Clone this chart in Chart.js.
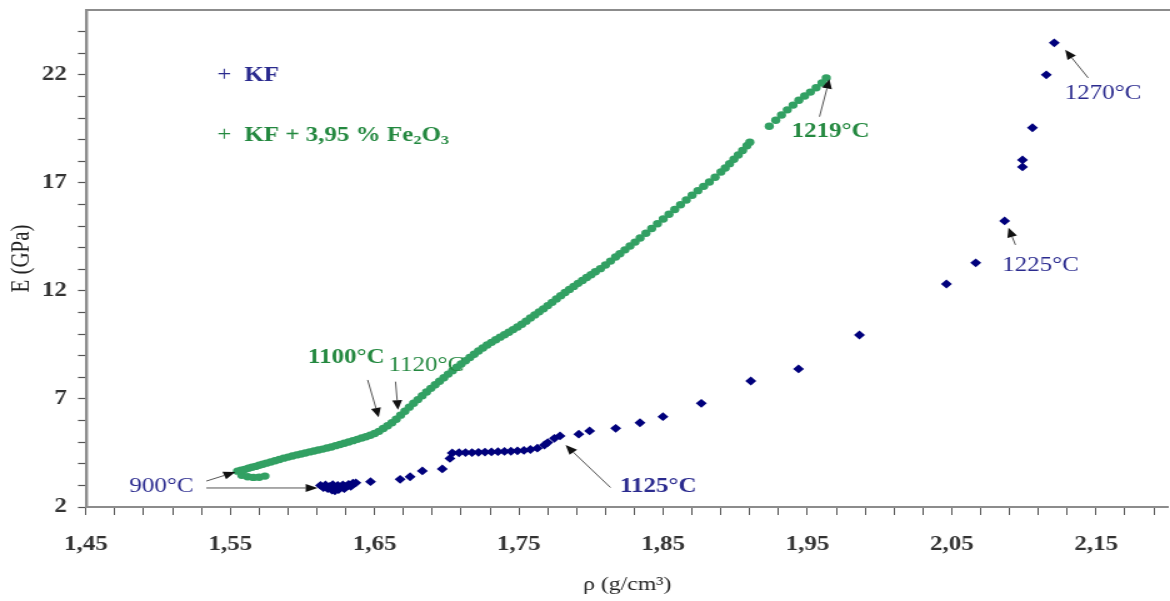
<!DOCTYPE html>
<html>
<head>
<meta charset="utf-8">
<script src="https://cdn.jsdelivr.net/npm/chart.js@4.4.1/dist/chart.umd.min.js"></script>
<style>
  html, body { margin: 0; padding: 0; background: #fff; overflow: hidden; width: 1170px; height: 601px; }
  #wrap { width: 939px; height: 601px; transform: scaleX(1.25); transform-origin: 0 0; }
</style>
</head>
<body>
<div id="wrap"><canvas id="c" width="939" height="601"></canvas></div>
<script>
// Density (g/cm3) and Young's modulus E (GPa) measured during sintering
const kfRho = [
  1.6125, 1.6145, 1.6160, 1.6175, 1.6190, 1.6205, 1.6210, 1.6225, 1.6230, 1.6245,
  1.6250, 1.6265, 1.6280, 1.6290, 1.6305, 1.6320, 1.6335, 1.6350, 1.6370,
  1.6472, 1.6677, 1.6746, 1.6831, 1.6969, 1.7022, 1.7038, 1.7085, 1.7130, 1.7175,
  1.7220, 1.7265, 1.7310, 1.7355, 1.7400, 1.7445, 1.7490, 1.7535, 1.7580, 1.7628,
  1.7677, 1.7700, 1.7746, 1.7785, 1.7915, 1.7990, 1.8171, 1.8339, 1.8498, 1.8764,
  1.9107, 1.9438, 1.9860, 2.0463, 2.0666, 2.0866, 2.0990, 2.0990, 2.1059, 2.1155, 2.1210
];
const kfE = [
  3.00, 2.90, 3.02, 2.85, 2.95, 2.78, 3.03, 2.75, 2.90, 3.00,
  2.80, 2.92, 3.02, 2.85, 2.95, 3.05, 2.95, 3.10, 3.12,
  3.17, 3.28, 3.40, 3.67, 3.76, 4.25, 4.50, 4.51, 4.52, 4.52,
  4.53, 4.54, 4.55, 4.56, 4.57, 4.58, 4.60, 4.62, 4.66, 4.72,
  4.87, 4.98, 5.18, 5.29, 5.37, 5.52, 5.64, 5.90, 6.18, 6.80,
  7.83, 8.39, 9.96, 12.32, 13.30, 15.24, 17.74, 18.06, 19.55, 22.00, 23.48
];

const feRho = [
  1.5580, 1.5620, 1.5660, 1.5700, 1.5740,
  1.5550, 1.5575, 1.5600, 1.5625, 1.5650, 1.5675, 1.5700, 1.5725, 1.5750, 1.5780,
  1.5810, 1.5840, 1.5870, 1.5900, 1.5930, 1.5960, 1.5990, 1.6020, 1.6050, 1.6080,
  1.6110, 1.6140, 1.6170, 1.6200, 1.6230, 1.6260, 1.6290, 1.6320, 1.6350, 1.6380,
  1.6410, 1.6440, 1.6470, 1.6500, 1.6530, 1.6560, 1.6590, 1.6620, 1.6650, 1.6680,
  1.6710, 1.6740, 1.6770, 1.6800, 1.6830, 1.6860, 1.6890, 1.6920, 1.6950, 1.6980,
  1.7010, 1.7040, 1.7070, 1.7100, 1.7130, 1.7160, 1.7190, 1.7220, 1.7250, 1.7280,
  1.7310, 1.7340, 1.7370, 1.7400, 1.7430, 1.7460, 1.7490, 1.7520, 1.7550, 1.7580,
  1.7610, 1.7640, 1.7670, 1.7700, 1.7730, 1.7760, 1.7790, 1.7820, 1.7850, 1.7880,
  1.7910, 1.7940, 1.7970, 1.8000, 1.8030, 1.8065, 1.8100, 1.8135, 1.8170, 1.8200,
  1.8235, 1.8270, 1.8305, 1.8340, 1.8380, 1.8420, 1.8460, 1.8500, 1.8540, 1.8580,
  1.8620, 1.8660, 1.8700, 1.8740, 1.8780, 1.8820, 1.8860, 1.8900, 1.8930, 1.8960,
  1.8990, 1.9020, 1.9050, 1.9080, 1.9100, 1.9235, 1.9280, 1.9320, 1.9360, 1.9400,
  1.9440, 1.9480, 1.9520, 1.9560, 1.9600, 1.9630
];
const feE = [
  3.47, 3.40, 3.37, 3.38, 3.43,
  3.66, 3.70, 3.74, 3.79, 3.84, 3.88, 3.93, 3.98, 4.03, 4.08,
  4.14, 4.20, 4.26, 4.31, 4.36, 4.41, 4.45, 4.50, 4.55, 4.59,
  4.64, 4.68, 4.73, 4.78, 4.84, 4.89, 4.95, 5.01, 5.07, 5.13,
  5.19, 5.25, 5.32, 5.40, 5.50, 5.63, 5.76, 5.90, 6.06, 6.25,
  6.43, 6.62, 6.80, 6.97, 7.15, 7.32, 7.49, 7.66, 7.82, 7.98,
  8.15, 8.31, 8.47, 8.62, 8.77, 8.92, 9.07, 9.22, 9.36, 9.50,
  9.62, 9.74, 9.86, 9.97, 10.09, 10.21, 10.33, 10.46, 10.60, 10.75,
  10.89, 11.03, 11.17, 11.32, 11.47, 11.63, 11.78, 11.93, 12.07, 12.21,
  12.35, 12.48, 12.62, 12.75, 12.89, 13.03, 13.20, 13.38, 13.57, 13.72,
  13.90, 14.08, 14.26, 14.45, 14.67, 14.89, 15.11, 15.33, 15.55, 15.77,
  15.99, 16.21, 16.43, 16.64, 16.84, 17.04, 17.26, 17.50, 17.69, 17.89,
  18.09, 18.29, 18.50, 18.72, 18.88, 19.62, 19.90, 20.14, 20.38, 20.60,
  20.82, 21.02, 21.20, 21.40, 21.62, 21.85
];

// Axis tick labels (decimal comma)
const xTickValues = [1.45, 1.55, 1.65, 1.75, 1.85, 1.95, 2.05, 2.15];
const xTickLabels = ['1,45', '1,55', '1,65', '1,75', '1,85', '1,95', '2,05', '2,15'];
const yTickValues = [2, 7, 12, 17, 22];
const yTickLabels = ['2', '7', '12', '17', '22'];

const NAVY = '#00007c';
const NAVY_TXT = '#2a2a8e';
const GREEN = '#32a063';
const GREEN_TXT = '#23883f';
const SERIF = '"Liberation Serif", "Times New Roman", serif';

// Temperature call-outs, placed in data space
const notes = [
  { text: '900°C',  at: [1.5024, 2.93],  color: NAVY_TXT,  weight: 'normal' },
  { text: '1100°C', at: [1.6303, 8.92],  color: GREEN_TXT, weight: 'bold' },
  { text: '1120°C', at: [1.6859, 8.55],  color: GREEN_TXT, weight: 'normal' },
  { text: '1125°C', at: [1.8466, 2.93],  color: NAVY_TXT,  weight: 'bold' },
  { text: '1219°C', at: [1.9659, 19.36], color: GREEN_TXT, weight: 'bold' },
  { text: '1225°C', at: [2.1114, 13.16], color: NAVY_TXT,  weight: 'normal' },
  { text: '1270°C', at: [2.1548, 21.12], color: NAVY_TXT,  weight: 'normal' }
];
const arrows = [
  { from: [1.5334, 3.20],  to: [1.5535, 3.62] },
  { from: [1.5334, 2.88],  to: [1.6105, 2.88] },
  { from: [1.6452, 7.88],  to: [1.6528, 6.15] },
  { from: [1.6645, 7.80],  to: [1.6662, 6.50] },
  { from: [1.8135, 2.90],  to: [1.7824, 4.87] },
  { from: [1.9583, 20.06], to: [1.9652, 21.80] },
  { from: [2.0941, 14.13], to: [2.0893, 14.92] },
  { from: [2.1445, 21.86], to: [2.1286, 23.16] }
];

function drawArrow(ctx, a, b) {
  const dx = b[0] - a[0], dy = b[1] - a[1];
  const len = Math.hypot(dx, dy);
  const ux = dx / len, uy = dy / len;
  const L = 9.5, W = 8;
  const bx = b[0] - ux * L, by = b[1] - uy * L;
  ctx.strokeStyle = '#555';
  ctx.lineWidth = 1;
  ctx.beginPath();
  ctx.moveTo(a[0], a[1]);
  ctx.lineTo(bx, by);
  ctx.stroke();
  ctx.fillStyle = '#111';
  ctx.beginPath();
  ctx.moveTo(b[0], b[1]);
  ctx.lineTo(bx - uy * W / 2, by + ux * W / 2);
  ctx.lineTo(bx + uy * W / 2, by - ux * W / 2);
  ctx.closePath();
  ctx.fill();
}

const decorations = {
  id: 'decorations',
  afterDatasetsDraw(chart) {
    const { ctx, chartArea, scales: { x, y } } = chart;
    const P = p => [x.getPixelForValue(p[0]), y.getPixelForValue(p[1])];
    ctx.save();

    // frame line along the top of the plot
    ctx.strokeStyle = '#8c8c8c';
    ctx.lineWidth = 2;
    ctx.beginPath();
    ctx.moveTo(chartArea.left, chartArea.top);
    ctx.lineTo(chartArea.right + 5, chartArea.top);
    ctx.stroke();

    arrows.forEach(a => drawArrow(ctx, P(a.from), P(a.to)));

    ctx.textBaseline = 'middle';
    ctx.textAlign = 'center';
    notes.forEach(n => {
      const p = P(n.at);
      ctx.font = n.weight + ' 20px ' + SERIF;
      ctx.fillStyle = n.color;
      ctx.fillText(n.text, p[0], p[1]);
    });

    // series key
    const k1 = P([1.5459, 21.95]);
    const k2 = P([1.5459, 19.18]);
    const t1 = P([1.5597, 21.95]);
    const t2 = P([1.5597, 19.18]);
    ctx.font = 'normal 20px ' + SERIF;
    ctx.textAlign = 'center';
    ctx.fillStyle = NAVY_TXT;
    ctx.fillText('+', k1[0], k1[1]);
    ctx.fillStyle = GREEN_TXT;
    ctx.fillText('+', k2[0], k2[1]);
    ctx.textAlign = 'left';
    ctx.font = 'bold 20px ' + SERIF;
    ctx.fillStyle = NAVY_TXT;
    ctx.fillText('KF', t1[0], t1[1]);
    ctx.fillStyle = GREEN_TXT;
    let cx = t2[0];
    const part = (s, size, dy) => {
      ctx.font = 'bold ' + size + 'px ' + SERIF;
      ctx.fillText(s, cx, t2[1] + dy);
      cx += ctx.measureText(s).width;
    };
    part('KF + 3,95 % Fe', 20, 0);
    part('2', 13, 5);
    part('O', 20, 0);
    part('3', 13, 5);

    ctx.restore();
  }
};

const labelFor = (values, labels) => v => {
  const i = values.findIndex(t => Math.abs(t - v) < 1e-6);
  return i >= 0 ? labels[i] : '';
};

new Chart(document.getElementById('c'), {
  type: 'scatter',
  data: {
    datasets: [
      {
        label: 'KF',
        data: kfRho.map((r, i) => ({ x: r, y: kfE[i] })),
        pointStyle: 'rectRot',
        pointRadius: 4.4,
        backgroundColor: NAVY,
        borderColor: NAVY,
        borderWidth: 0
      },
      {
        label: 'KF + 3,95 % Fe2O3',
        data: feRho.map((r, i) => ({ x: r, y: feE[i] })),
        pointStyle: 'circle',
        pointRadius: 3.7,
        backgroundColor: GREEN,
        borderColor: GREEN,
        borderWidth: 0
      }
    ]
  },
  options: {
    responsive: false,
    animation: false,
    events: [],
    layout: { padding: { top: 10, left: 0, right: 0, bottom: 0 } },
    plugins: { legend: { display: false }, tooltip: { enabled: false } },
    scales: {
      x: {
        type: 'linear',
        min: 1.45,
        max: 2.2,
        afterBuildTicks(scale) {
          const t = [];
          for (let i = 0; i <= 37; i++) t.push({ value: +(1.45 + 0.02 * i).toFixed(2) });
          scale.ticks = t;
        },
        afterFit(scale) {
          scale.height = 94;
          scale.paddingLeft = 0;
          scale.paddingRight = 0;
        },
        ticks: {
          autoSkip: false,
          maxRotation: 0,
          padding: 18,
          color: '#333',
          font: { family: SERIF, size: 20, weight: 'bold' },
          callback: labelFor(xTickValues, xTickLabels)
        },
        grid: { drawOnChartArea: false, drawTicks: true, tickLength: 8, color: '#555', tickWidth: 1 },
        border: { display: true, color: '#8c8c8c', width: 2 },
        title: {
          display: true,
          text: 'ρ (g/cm³)',
          color: '#222',
          font: { family: SERIF, size: 19 },
          padding: { top: 0, bottom: 5 }
        }
      },
      y: {
        type: 'linear',
        min: 2,
        max: 25,
        afterBuildTicks(scale) {
          const t = [];
          for (let v = 2; v <= 24; v++) t.push({ value: v });
          scale.ticks = t;
        },
        afterFit(scale) {
          scale.width = 68.8;
          scale.paddingTop = 0;
          scale.paddingBottom = 0;
        },
        ticks: {
          autoSkip: false,
          padding: 9,
          color: '#333',
          font: { family: SERIF, size: 20, weight: 'bold' },
          callback: labelFor(yTickValues, yTickLabels)
        },
        grid: { drawOnChartArea: false, drawTicks: true, tickLength: 6.4, color: '#555', tickWidth: 1.2 },
        border: { display: true, color: '#8c8c8c', width: 2.4 },
        title: {
          display: true,
          text: 'E (GPa)',
          color: '#222',
          font: { family: SERIF, size: 21 },
          padding: { top: 5, bottom: 0 }
        }
      }
    }
  },
  plugins: [decorations]
});
</script>
</body>
</html>
